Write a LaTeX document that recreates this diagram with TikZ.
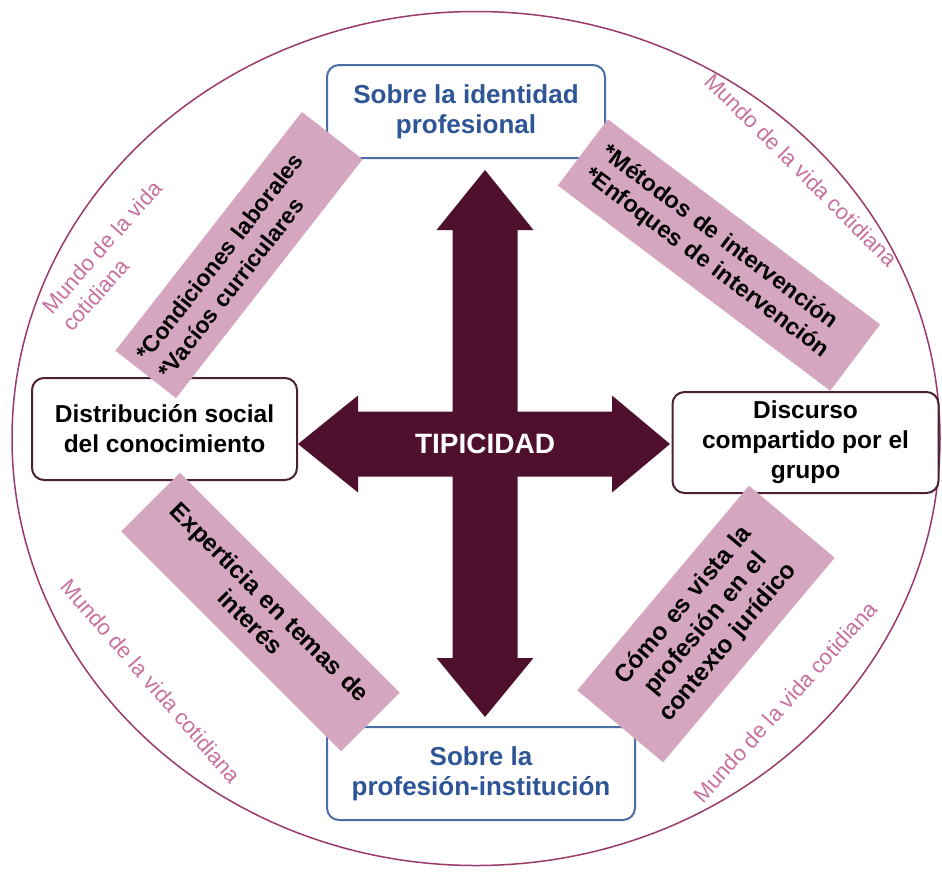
\documentclass[tikz,border=0pt]{standalone}
\usepackage{fontspec}
\setmainfont{Liberation Sans}
\definecolor{arrowcol}{HTML}{4F102E}
\definecolor{pinkfill}{HTML}{D5A6BF}
\definecolor{blueline}{HTML}{4A6EA8}
\definecolor{bluetext}{HTML}{2E5596}
\definecolor{circlecol}{HTML}{9A3A6A}
\definecolor{mundocol}{HTML}{C7709F}
\definecolor{darkline}{HTML}{4A2036}
\begin{document}
\begin{tikzpicture}[x=1pt,y=-1pt,
  bluebox/.style={draw=blueline, line width=2pt, rounded corners=12pt, fill=white,
    text=bluetext, align=center, font=\bfseries\fontsize{26}{30}\selectfont, inner sep=0pt},
  darkbox/.style={draw=darkline, line width=2pt, rounded corners=12pt, fill=white,
    text=black, align=center, font=\bfseries\fontsize{24.5}{30}\selectfont, inner sep=0pt},
  pinkbox/.style={fill=pinkfill, draw=none, text=black, inner ysep=0pt,
    font=\bfseries\fontsize{23.5}{28}\selectfont},
  mundo/.style={text=mundocol, font=\fontsize{22}{27}\selectfont, inner sep=0pt}]
\useasboundingbox (0,0) rectangle (942,871);
% outer circle
\draw[circlecol, line width=1.5pt] (476,438.5) ellipse [x radius=464, y radius=427];
% mundo labels
\node[mundo, align=left, rotate=48.5] (m1) at (112,256) {Mundo de la vida\\cotidiana};
\node[mundo, rotate=-45] (m2) at (801,170) {Mundo de la vida cotidiana};
\node[mundo, rotate=-49] (m3) at (151,681) {Mundo de la vida cotidiana};
\node[mundo, rotate=48] (m4) at (785,702) {Mundo de la vida cotidiana};
% boxes
\node[bluebox, minimum width=278pt, minimum height=93pt] (top) at (466,111.5) {Sobre la identidad\\profesional};
\node[bluebox, minimum width=308pt, minimum height=93pt] (bot) at (481,773.5) {Sobre la\\profesión-institución};
\node[darkbox, minimum width=265pt, minimum height=102pt] (left) at (164.5,429) {Distribución social\\del conocimiento};
\node[darkbox, minimum width=266pt, minimum height=101pt] (right) at (805.5,442.5) {Discurso\\compartido por el\\grupo};
% central cross arrow
\fill[arrowcol] (485,170) -- (533.5,230) -- (517.5,230) -- (517.5,411.5) -- (612,411.5) -- (612,395.5)
  -- (670,444) -- (612,492.5) -- (612,476.5) -- (517.5,476.5) -- (517.5,658) -- (533.5,658)
  -- (485,717) -- (436.5,658) -- (452.5,658) -- (452.5,476.5) -- (358,476.5) -- (358,492.5)
  -- (298,444) -- (358,395.5) -- (358,411.5) -- (452.5,411.5) -- (452.5,230) -- (436.5,230) -- cycle;
\node[text=white, font=\bfseries\fontsize{28}{30}\selectfont] (tip) at (485,444) {TIPICIDAD};
% pink rotated boxes
\node[pinkbox, rotate=52, minimum width=303pt, minimum height=77pt, inner xsep=10pt,
  text width=283pt, align=left, font=\bfseries\fontsize{23}{28}\selectfont] (p1) at (239,255)
  {*Condiciones laborales\\{*}Vacíos curriculares};
\node[pinkbox, rotate=-37, minimum width=341pt, minimum height=83pt, inner xsep=16pt,
  text width=309pt, align=left] (p2) at (719,255)
  {*Métodos de intervención\\{*}Enfoques de intervención};
\node[pinkbox, rotate=-45, minimum width=311pt, minimum height=83pt, inner xsep=10pt,
  text width=291pt, align=center, font=\bfseries\fontsize{24.5}{28}\selectfont] (p3) at (260.5,612)
  {Experticia en temas de\\interés};
\node[pinkbox, rotate=50, minimum width=267pt, minimum height=112pt, inner xsep=10pt,
  text width=247pt, align=center, font=\bfseries\fontsize{24.5}{29}\selectfont] (p4) at (706,624)
  {Cómo es vista la\\profesión en el\\contexto jurídico};
\end{tikzpicture}
\end{document}
